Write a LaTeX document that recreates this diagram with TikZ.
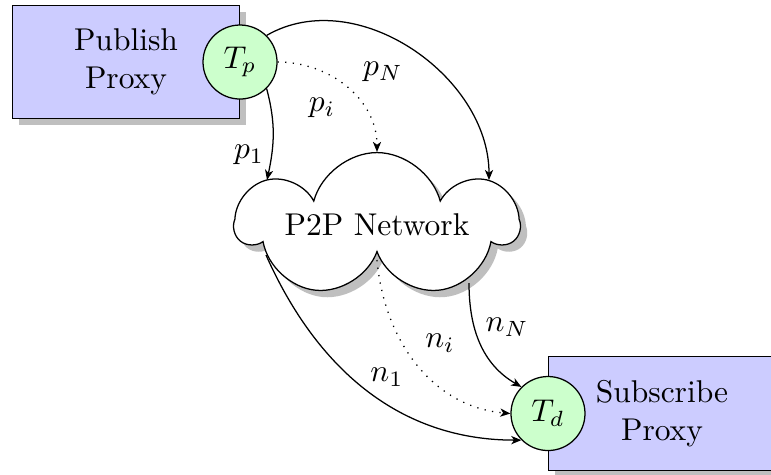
\documentclass[tikz,border=0pt]{standalone}
\usetikzlibrary{shapes.symbols,shadows,arrows.meta,calc}
\begin{document}
\begin{tikzpicture}[x=0.3175pt,y=-0.3175pt,
  proxy/.style={draw, fill=blue!20, drop shadow, minimum width=72pt, minimum height=36pt, align=center, inner sep=0pt},
  tap/.style={circle, draw, fill=green!20, minimum size=23.5pt, inner sep=0pt},
  netw/.style={cloud, cloud puffs=7, draw, fill=white, drop shadow, cloud ignores aspect, inner sep=0pt, minimum width=89pt, minimum height=46pt},
  conn/.style={-{Stealth[length=3.2pt,width=2.6pt,inset=0.9pt]}},
  lbl/.style={inner sep=0pt}]
\useasboundingbox (0,0) rectangle (771,474);
\node[proxy] (pub) at (126,62) {Publish\\Proxy};
\node[proxy] (sub) at (662,413.5) {Subscribe\\Proxy};
\node[netw] (net) at (377,225) {P2P Network};
\node[tap] (Tp) at (pub.east) {$T_p$};
\node[tap] (Td) at (sub.west) {$T_d$};
\coordinate (p1e) at ($(net.center)+(-110,-45)$);
\coordinate (pNe) at ($(net.center)+(112,-45)$);
\coordinate (n1s) at ($(net.center)+(-111,30)$);
\coordinate (nis) at ($(net.center)+(0,35)$);
\coordinate (nNs) at ($(net.center)+(92,58)$);
\draw[conn] (Tp.-45) to[out=-75,in=78] (p1e);
\draw[conn,dotted] (Tp.east) to[out=0,in=90] (net.north);
\draw[conn] (Tp.45) to[out=30,in=90] (pNe);
\draw[conn] (n1s) to[out=-66,in=180] (Td.-135);
\draw[conn,dotted] (nis) to[out=-85,in=175] (Td.west);
\draw[conn] (nNs) to[out=-90,in=150] (Td.135);
\node[lbl] (lp1) at (249,155) {$p_1$};
\node[lbl] (lpi) at (322,108) {$p_i$};
\node[lbl] (lpN) at (383,72) {$p_N$};
\node[lbl] (ln1) at (387,377) {$n_1$};
\node[lbl] (lni) at (440,343) {$n_i$};
\node[lbl] (lnN) at (507,327) {$n_N$};
\end{tikzpicture}
\end{document}
